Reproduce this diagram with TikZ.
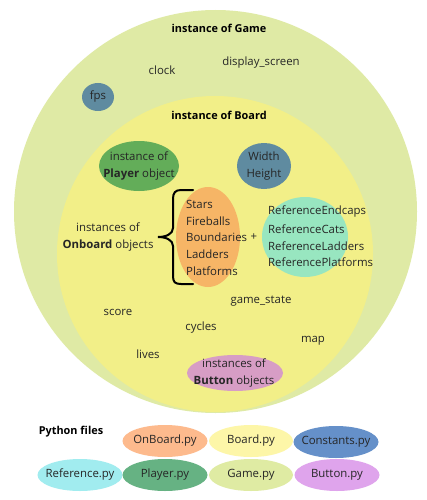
\documentclass[tikz,border=0pt]{standalone}
\usepackage{fontspec}
\setmainfont{Open Sans}
\begin{document}
\begin{tikzpicture}[x=1pt,y=-1pt,
  txt/.style={font=\fontsize{11.4}{16.5}\selectfont, text=black!85, inner sep=0pt},
  btxt/.style={font=\fontsize{10.9}{13}\selectfont\bfseries, text=black, inner sep=0pt},
  lst/.style={txt, align=left, anchor=west},
]
\useasboundingbox (0,0) rectangle (427,500);
\fill[white] (0,0) rectangle (427,500);
\definecolor{gamec}{HTML}{DFEAA5}
\definecolor{boardc}{HTML}{F2EF88}
\definecolor{steelc}{HTML}{5F8BA0}
\definecolor{playerc}{HTML}{63AD59}
\definecolor{orangec}{HTML}{F6B566}
\definecolor{refc}{HTML}{98E6C0}
\definecolor{buttonc}{HTML}{D79DC5}
\definecolor{fonb}{HTML}{FDBA8D}
\definecolor{fboard}{HTML}{FDF6A8}
\definecolor{fconst}{HTML}{6590C9}
\definecolor{fref}{HTML}{A1ECEF}
\definecolor{fplayer}{HTML}{66B283}
\definecolor{fgame}{HTML}{DFEBA3}
\definecolor{fbutton}{HTML}{DFA4EC}

% circles
\fill[gamec] (215.5,211.5) circle (201.5);
\fill[boardc] (215,254) circle (158);

\node[btxt] (game) at (219,28) {instance of Game};
\node[txt] (clock) at (162,70) {clock};
\node[txt] (disp) at (261,63) {display\_screen};
\fill[steelc] (98,97) ellipse (16 and 14);
\node[txt] (fps) at (98,97) {fps};

\node[btxt] (board) at (219,115) {instance of Board};

\fill[playerc] (139,166) ellipse (40 and 25);
\node[txt, align=center] (player) at (139,166) {instance of\\\textbf{Player} object};
\fill[steelc] (264,166) ellipse (27 and 23);
\node[txt, align=center] (wh) at (264,166) {Width\\Height};

\node[txt, align=center] (onb) at (108,237) {instances of\\\textbf{Onboard} objects};
\draw[line width=2pt, line cap=round]
  (193,190) -- (181,190) .. controls (175,190) and (173,193) .. (173,199)
  -- (173,228) .. controls (173,234) and (166,237) .. (158,237)
  .. controls (166,237) and (173,240) .. (173,246)
  -- (173,276) .. controls (173,282) and (175,284) .. (181,284) -- (193,284);
\fill[orangec] (208,237) ellipse (32 and 50);
\node[lst] (stars) at (186,204) {Stars};
\node[lst] (fire) at (186,221) {Fireballs};
\node[lst] (bound) at (186,237) {Boundaries};
\node[lst] (ladd) at (186,254) {Ladders};
\node[lst] (plat) at (186,271) {Platforms};
\node[txt] (plus) at (254,237) {+};
\fill[refc] (305,237) ellipse (43 and 40);
\node[lst] (rend) at (268,212) {ReferenceEndcaps};
\node[lst] (rcat) at (268,229) {ReferenceCats};
\node[lst] (rlad) at (268,246) {ReferenceLadders};
\node[lst] (rplat) at (268,262) {ReferencePlatforms};

\node[txt] (gs) at (261,301) {game\_state};
\node[txt] (score) at (118,312) {score};
\node[txt] (cycles) at (201,328) {cycles};
\node[txt] (map) at (313,341) {map};
\node[txt] (lives) at (148,354) {lives};
\fill[buttonc] (235,373) ellipse (48 and 18);
\node[txt, align=center] (btn) at (234,373) {instances of\\\textbf{Button} objects};

\node[btxt] (pyf) at (71,432) {Python files};
\fill[fonb] (165,441) ellipse (42.5 and 16);
\node[txt] (f1) at (165,441) {OnBoard.py};
\fill[fboard] (251,441) ellipse (42 and 16);
\node[txt] (f2) at (251,441) {Board.py};
\fill[fconst] (336,442) ellipse (42.5 and 16);
\node[txt] (f3) at (336,442) {Constants.py};
\fill[fref] (80,475) ellipse (42.5 and 16);
\node[txt] (f4) at (80,475) {Reference.py};
\fill[fplayer] (165,475) ellipse (42.5 and 16);
\node[txt] (f5) at (165,475) {Player.py};
\fill[fgame] (251,475) ellipse (42 and 16);
\node[txt] (f6) at (251,475) {Game.py};
\fill[fbutton] (337,475) ellipse (42.5 and 16);
\node[txt] (f7) at (337,475) {Button.py};
\end{tikzpicture}
\end{document}
